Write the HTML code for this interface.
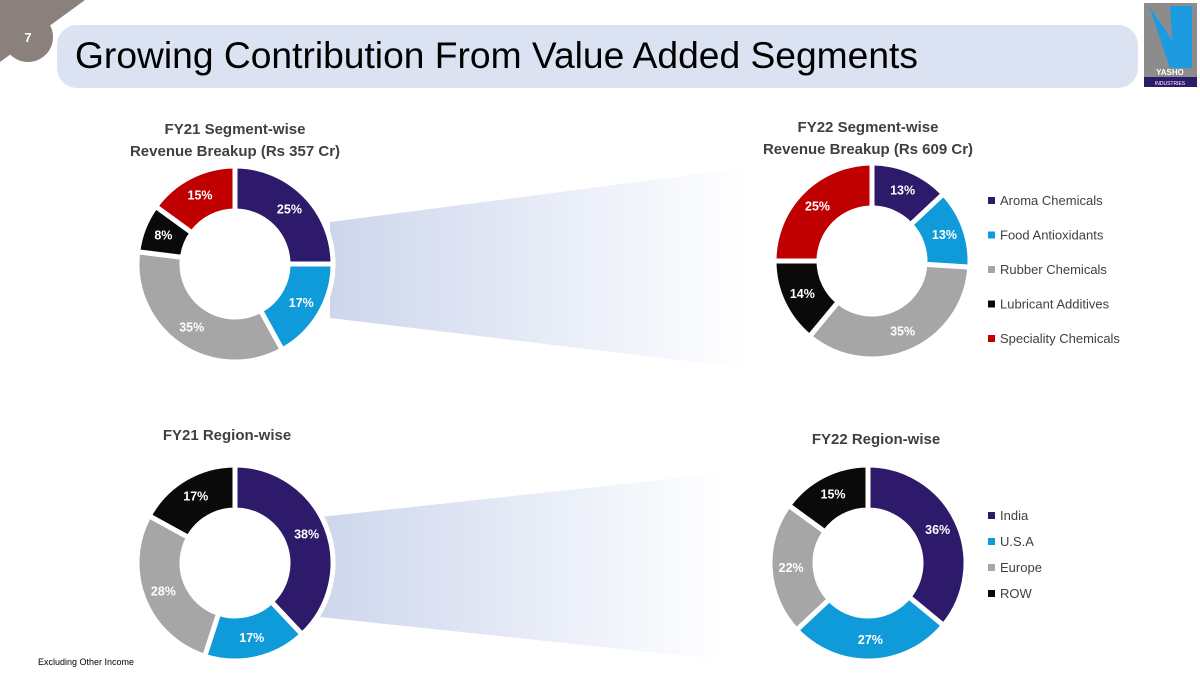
<!DOCTYPE html>
<html><head><meta charset="utf-8">
<style>
html,body{margin:0;padding:0;background:#fff;}
body{width:1200px;height:684px;position:relative;overflow:hidden;font-family:"Liberation Sans",sans-serif;}
svg text{font-family:"Liberation Sans",sans-serif;}
</style></head>
<body>
<svg id="chart" width="1200" height="684" viewBox="0 0 1200 684" xmlns="http://www.w3.org/2000/svg">
<defs>
<linearGradient id="fun1" x1="0" x2="1" y1="0" y2="0"><stop offset="0" stop-color="#cdd6ec"/><stop offset="0.85" stop-color="#f7f9fd"/><stop offset="1" stop-color="#ffffff"/></linearGradient>
</defs>
<polygon points="0,0 85,0 0,62" fill="#8a817c"/>
<rect x="57" y="25" width="1081" height="63" rx="20" fill="#dbe3f2"/>
<circle cx="28" cy="37" r="25" fill="#8a817c"/>
<text x="28" y="42" font-size="13" font-weight="bold" fill="#fff" text-anchor="middle">7</text>
<text x="75" y="68" font-size="37" fill="#000" textLength="843" lengthAdjust="spacingAndGlyphs">Growing Contribution From Value Added Segments</text>
<g>
<rect x="1144" y="3" width="53" height="84" fill="#8c8c8c"/>
<polygon points="1149,6 1192,6 1192,68 1170,68" fill="#1c9be0"/>
<polygon points="1149,6 1170,6 1172,40" fill="#8c8c8c"/>
<rect x="1144" y="77" width="53" height="10" fill="#2e1a6b"/>
<text x="1170" y="75" font-size="8" font-weight="bold" fill="#fff" text-anchor="middle">YASHO</text>
<text x="1170" y="85" font-size="5" fill="#fff" text-anchor="middle">INDUSTRIES</text>
</g>
<polygon points="330,222 745,168 745,368 330,318" fill="url(#fun1)"/>
<polygon points="320,517 725,473 725,660 320,617" fill="url(#fun1)"/>
<g id="charts"></g>
<text x="38" y="665" font-size="9" fill="#000">Excluding Other Income</text>
</svg>
<script>
const segCats = ["Aroma Chemicals","Food Antioxidants","Rubber Chemicals","Lubricant Additives","Speciality Chemicals"];
const segFY21 = [25,17,35,8,15];
const segFY22 = [13,13,35,14,25];
const regCats = ["India","U.S.A","Europe","ROW"];
const regFY21 = [38,17,28,17];
const regFY22 = [36,27,22,15];
const segColors = ["#2e1a6b","#0f9ad9","#a6a6a6","#0a0a0a","#c00000"];
const regColors = ["#2e1a6b","#0f9ad9","#a6a6a6","#0a0a0a"];
const NS="http://www.w3.org/2000/svg";
const root=document.getElementById('charts');
function mk(tag,attrs,parent){const e=document.createElementNS(NS,tag);for(const k in attrs)e.setAttribute(k,attrs[k]);parent.appendChild(e);return e;}
function donut(name,cx,cy,vals,colors,cats){
  const g=mk('g',{},root);
  
  
  const R=98,r=53,tot=vals.reduce((a,b)=>a+b,0);
  let a0=-Math.PI/2;
  vals.forEach((v,i)=>{
    const a1=a0+v/tot*2*Math.PI, large=(a1-a0)>Math.PI?1:0;
    const p=(rad,a)=>[cx+rad*Math.cos(a),cy+rad*Math.sin(a)];
    const [x1,y1]=p(R,a0),[x2,y2]=p(R,a1),[x3,y3]=p(r,a1),[x4,y4]=p(r,a0);
    const s=mk('path',{d:`M${x1},${y1}A${R},${R} 0 ${large} 1 ${x2},${y2}L${x3},${y3}A${r},${r} 0 ${large} 0 ${x4},${y4}Z`,fill:colors[i],stroke:'#fff','stroke-width':5},g);
    
    
    const am=(a0+a1)/2,[lx,ly]=p(77,am);
    const t=mk('text',{x:lx,y:ly+4,'font-size':12.5,'font-weight':'bold',fill:'#fff','text-anchor':'middle'},g);
    t.textContent=v+'%';
    
    
    a0=a1;
  });
}
function title(lines,x,y){
  lines.forEach((l,i)=>{
    const t=mk('text',{x:x,y:y+i*22,'font-size':15,'font-weight':'bold',fill:'#404040','text-anchor':'middle'},root);
    t.textContent=l;
    
    
  });
}
function legend(cats,colors,x,y,step){
  cats.forEach((c,i)=>{
    const g=mk('g',{},root);
    
    
    mk('rect',{x:x,y:y+i*step-8,width:7,height:7,fill:colors[i]},g);
    const t=mk('text',{x:x+12,y:y+i*step,'font-size':13,fill:'#404040'},g);
    t.textContent=c;
  });
}
title(["FY21 Segment-wise","Revenue Breakup (Rs 357 Cr)"],235,134);
title(["FY22 Segment-wise","Revenue Breakup (Rs 609 Cr)"],868,132);
title(["FY21 Region-wise"],227,440);
title(["FY22 Region-wise"],876,444);
donut('donut-fy21-segment',235,264,segFY21,segColors,segCats);
donut('donut-fy22-segment',872,261,segFY22,segColors,segCats);
donut('donut-fy21-region',235,563,regFY21,regColors,regCats);
donut('donut-fy22-region',868,563,regFY22,regColors,regCats);
legend(segCats,segColors,988,205,34.5);
legend(regCats,regColors,988,520,26);
</script>
</body></html>
